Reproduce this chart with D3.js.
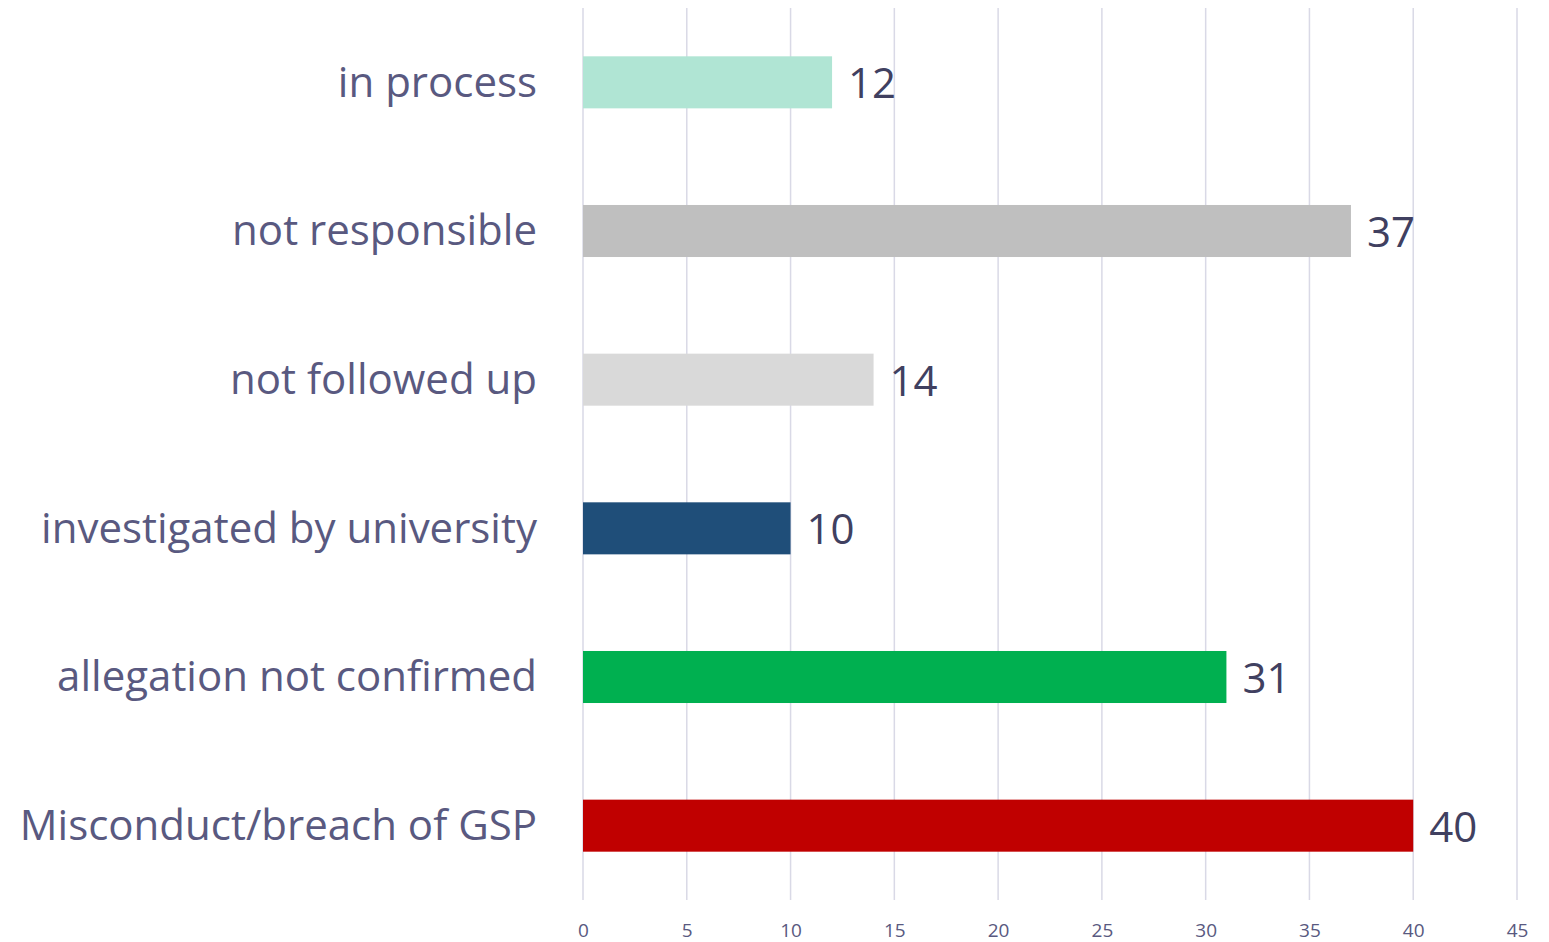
<!DOCTYPE html>
<html>
<head>
    <style>
        body, html { margin: 0; padding: 0; background: #fff; overflow: hidden; }
        text { font-family: 'Open Sans', sans-serif; }
    </style>
    <script src="https://d3js.org/d3.v7.min.js"></script>
</head>
<body>
<svg id="chart" width="1549" height="942"></svg>
<script>
const categories = ['in process', 'not responsible', 'not followed up', 'investigated by university', 'allegation not confirmed', 'Misconduct/breach of GSP'];
const values = [12, 37, 14, 10, 31, 40];
const colors = ['#b0e5d4', '#bfbfbf', '#d9d9d9', '#1f4e79', '#00b050', '#c00000'];
const xTicks = [0, 5, 10, 15, 20, 25, 30, 35, 40, 45];

const svg = d3.select('#chart');
const plotLeft = 583, plotRight = 1517, plotTop = 8, plotBottom = 900;

const x = d3.scaleLinear().domain([0, 45]).range([plotLeft, plotRight]);
const y = d3.scaleBand().domain(categories).range([plotTop, plotBottom]).paddingInner(0.65).paddingOuter(0.325);

// gridlines
svg.append('g').selectAll('line')
    .data(xTicks)
    .enter().append('line')
    .attr('x1', d => x(d)).attr('x2', d => x(d))
    .attr('y1', plotTop).attr('y2', plotBottom)
    .attr('stroke', '#d9d9e6')
    .attr('stroke-width', 1.5);

// x axis tick labels
const xAxis = svg.append('g')
    .attr('transform', `translate(0,${plotBottom})`)
    .call(d3.axisBottom(x).tickValues(xTicks).tickSize(0).tickPadding(24));
xAxis.select('.domain').remove();
xAxis.selectAll('text')
    .attr('fill', '#595980')
    .style('font-size', '19px')
    .style('font-family', "'Open Sans', sans-serif");

// bars
svg.append('g').selectAll('rect')
    .data(categories)
    .enter().append('rect')
    .attr('x', x(0))
    .attr('y', d => y(d))
    .attr('width', (d, i) => x(values[i]) - x(0))
    .attr('height', y.bandwidth())
    .attr('fill', (d, i) => colors[i]);

// value labels
svg.append('g').selectAll('text')
    .data(categories)
    .enter().append('text')
    .attr('x', (d, i) => x(values[i]) + 16)
    .attr('y', d => y(d) + y.bandwidth() / 2)
    .attr('dy', '0.38em')
    .attr('fill', '#404060')
    .style('font-size', '42px')
    .text((d, i) => values[i]);

// category labels
const yAxis = svg.append('g')
    .attr('transform', `translate(${plotLeft},0)`)
    .call(d3.axisLeft(y).tickSize(0).tickPadding(46));
yAxis.select('.domain').remove();
yAxis.selectAll('text')
    .attr('fill', '#595980')
    .attr('dy', '0.34em')
    .style('font-size', '42px')
    .style('font-family', "'Open Sans', sans-serif");
</script>
</body>
</html>
